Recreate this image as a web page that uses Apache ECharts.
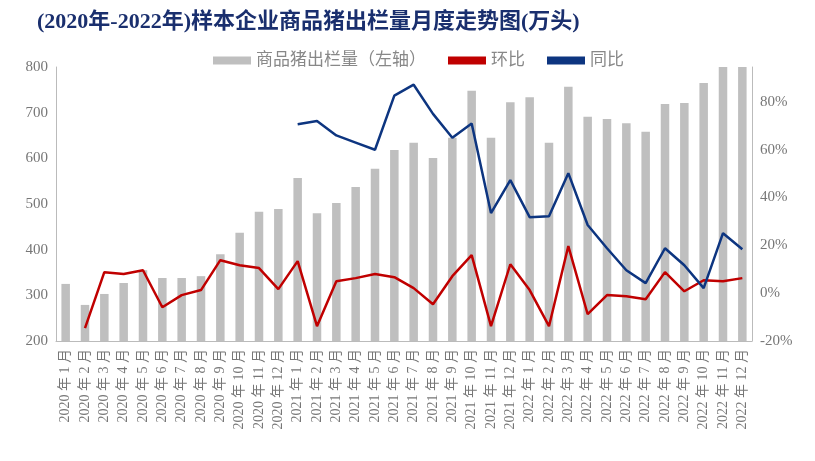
<!DOCTYPE html>
<html><head><meta charset="utf-8">
<script src="https://cdn.jsdelivr.net/npm/echarts@6/dist/echarts.min.js"></script>
<style>html,body{margin:0;background:#fff}#container{width:815px;height:461px}</style>
</head><body><div id="container"></div>
<script>
var months = [];
[2020, 2021, 2022].forEach(function (y) {
  for (var m = 1; m <= 12; m++) months.push(y + ' 年 ' + m + ' 月');
});
var output = [325, 279, 303, 327, 355, 338, 338, 342, 390, 437, 483, 489,
  557, 480, 502, 537, 577, 618, 634, 601, 645, 748, 645, 723,
  734, 634, 757, 691, 686, 677, 658, 719, 721, 765, 800, 800];
var mom = [null, -14.6, 8.8, 8.0, 9.6, -5.9, -0.8, 1.3, 13.8, 11.7, 10.5, 1.7,
  13.4, -13.8, 5.0, 6.3, 8.0, 6.7, 2.1, -4.6, 7.1, 15.9, -13.8, 12.1,
  1.3, -13.8, 19.7, -8.8, -0.8, -1.3, -2.5, 8.8, 0.8, 5.4, 5.0, 6.3];
var yoy = [null, null, null, null, null, null, null, null, null, null, null, null,
  70.7, 72.0, 66.0, 63.0, 60.0, 82.6, 87.2, 75.0, 65.0, 71.0, 33.5, 47.3,
  31.8, 32.2, 50.2, 28.5, 18.8, 9.6, 4.2, 18.8, 11.7, 2.1, 25.1, 18.4];

var font = '"Liberation Serif", "Noto Sans CJK SC", serif';
var myChart = echarts.init(document.getElementById('container'), null, { renderer: 'canvas' });
var option = {
  animation: false,
  textStyle: { fontFamily: font },
  title: {
    text: '(2020年-2022年)样本企业商品猪出栏量月度走势图(万头)',
    left: 32, top: 6,
    textStyle: { fontFamily: font, fontSize: 22, fontWeight: 'bold', color: '#1a2f6e' }
  },
  legend: {
    top: 47, left: 208, itemWidth: 38, itemHeight: 8, itemGap: 22,
    textStyle: { fontFamily: font, fontSize: 17, color: '#888' },
    data: [
      { name: '商品猪出栏量（左轴）', icon: 'rect' },
      { name: '环比', icon: 'rect' },
      { name: '同比', icon: 'rect' }
    ]
  },
  grid: { left: 56, right: 63, top: 67, bottom: 120 },
  xAxis: {
    type: 'category', data: months,
    axisLine: { onZero: false, lineStyle: { color: '#bbb' } },
    axisTick: { lineStyle: { color: '#bbb' } },
    axisLabel: { rotate: 90, interval: 0, color: '#777', fontSize: 14, fontFamily: font }
  },
  yAxis: [{
    type: 'value', min: 200, max: 800, interval: 100,
    splitLine: { show: false },
    axisLine: { show: true, lineStyle: { color: '#bbb' } },
    axisLabel: { color: '#777', fontSize: 15, fontFamily: font }
  }, {
    type: 'value', min: -20, max: 94.6, interval: 20,
    splitLine: { show: false },
    axisLine: { show: true, lineStyle: { color: '#bbb' } },
    axisLabel: { color: '#777', fontSize: 15, fontFamily: font, formatter: '{value}%', showMaxLabel: false }
  }],
  series: [{
    name: '商品猪出栏量（左轴）', type: 'bar', data: output, barWidth: '44%',
    itemStyle: { color: '#bfbfbf' }
  }, {
    name: '环比', type: 'line', yAxisIndex: 1, data: mom, symbol: 'none',
    lineStyle: { color: '#c00000', width: 2.5 }, itemStyle: { color: '#c00000' }
  }, {
    name: '同比', type: 'line', yAxisIndex: 1, data: yoy, symbol: 'none',
    lineStyle: { color: '#0d3580', width: 2.5 }, itemStyle: { color: '#0d3580' }
  }]
};
myChart.setOption(option);
window.addEventListener('resize', myChart.resize);
</script></body></html>
